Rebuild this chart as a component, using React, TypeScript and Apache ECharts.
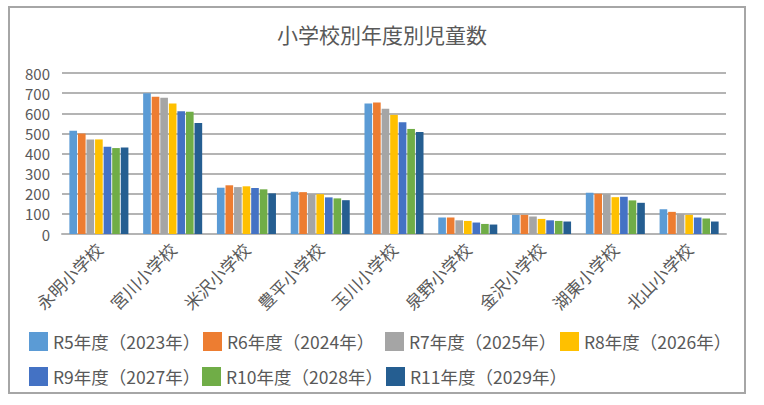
import React, { useEffect, useRef } from "react";
import * as echarts from "echarts";

const categories = ["永明小学校", "宮川小学校", "米沢小学校", "豊平小学校", "玉川小学校", "泉野小学校", "金沢小学校", "湖東小学校", "北山小学校"];
const seriesNames = ["R5年度（2023年）", "R6年度（2024年）", "R7年度（2025年）", "R8年度（2026年）", "R9年度（2027年）", "R10年度（2028年）", "R11年度（2029年）"];
const r5 = [513, 700, 230, 210, 648, 82, 95, 205, 123];
const r6 = [500, 682, 242, 208, 653, 82, 95, 200, 110];
const r7 = [470, 677, 233, 198, 622, 68, 87, 198, 100];
const r8 = [470, 648, 237, 198, 592, 65, 75, 183, 95];
const r9 = [433, 610, 228, 182, 555, 57, 68, 185, 82];
const r10 = [427, 607, 222, 177, 522, 50, 65, 167, 77];
const r11 = [430, 552, 202, 168, 507, 47, 62, 155, 62];
const seriesValues = [r5, r6, r7, r8, r9, r10, r11];
const colors = ["#5B9BD5", "#ED7D31", "#A5A5A5", "#FFC000", "#4472C4", "#70AD47", "#255E91"];
const yTicks = { min: 0, max: 800, interval: 100 };

const FONT = "'Noto Sans CJK JP', 'Noto Sans', sans-serif";
const TEXT = "#595959";

const legendPos = [
  [29, 332], [203, 332], [385, 332], [560, 332],
  [29, 367], [202, 367], [386, 367],
];

export default function App() {
  const ref = useRef<HTMLDivElement>(null);
  useEffect(() => {
    if (!ref.current) return;
    const chart = echarts.init(ref.current, null, { renderer: "svg" });
    chart.setOption({
      animation: false,
      color: colors,
      title: {
        text: "小学校別年度別児童数",
        left: "center",
        top: 18,
        textStyle: { color: TEXT, fontSize: 21, fontWeight: "normal", fontFamily: FONT },
      },
      legend: seriesNames.map((n, i) => ({
        data: [n],
        left: legendPos[i][0],
        top: legendPos[i][1],
        itemWidth: 19,
        itemHeight: 19,
        itemGap: 0,
        icon: "rect",
        padding: 0,
        textStyle: { color: TEXT, fontSize: 17.5, fontFamily: FONT },
      })),
      grid: { left: 62, right: 38, top: 73, bottom: 171, containLabel: false },
      xAxis: {
        type: "category",
        data: categories,
        axisLine: { lineStyle: { color: "#B4B4B4", width: 2 } },
        axisTick: { show: false },
        axisLabel: { rotate: 45, color: TEXT, fontSize: 17, fontFamily: FONT, margin: 12, interval: 0 },
      },
      yAxis: {
        type: "value",
        min: yTicks.min,
        max: yTicks.max,
        interval: yTicks.interval,
        axisLine: { show: false },
        axisTick: { show: false },
        axisLabel: { color: TEXT, fontSize: 15, fontFamily: FONT, margin: 12 },
        splitLine: { lineStyle: { color: "#B4B4B4", width: 2 } },
      },
      series: seriesNames.map((n, i) => ({
        name: n,
        type: "bar",
        data: seriesValues[i],
        barGap: "12%",
        barCategoryGap: "20%",
      })),
      graphic: [
        {
          type: "rect",
          shape: { x: 9, y: 7, width: 736, height: 386 },
          style: { fill: "none", stroke: "#A6A6A6", lineWidth: 2 },
          silent: true,
        },
      ],
    });
    return () => chart.dispose();
  }, []);
  return (
    <div
      ref={ref}
      style={{ position: "absolute", left: 0, top: 0, width: 764, height: 405, background: "#fff" }}
    />
  );
}
